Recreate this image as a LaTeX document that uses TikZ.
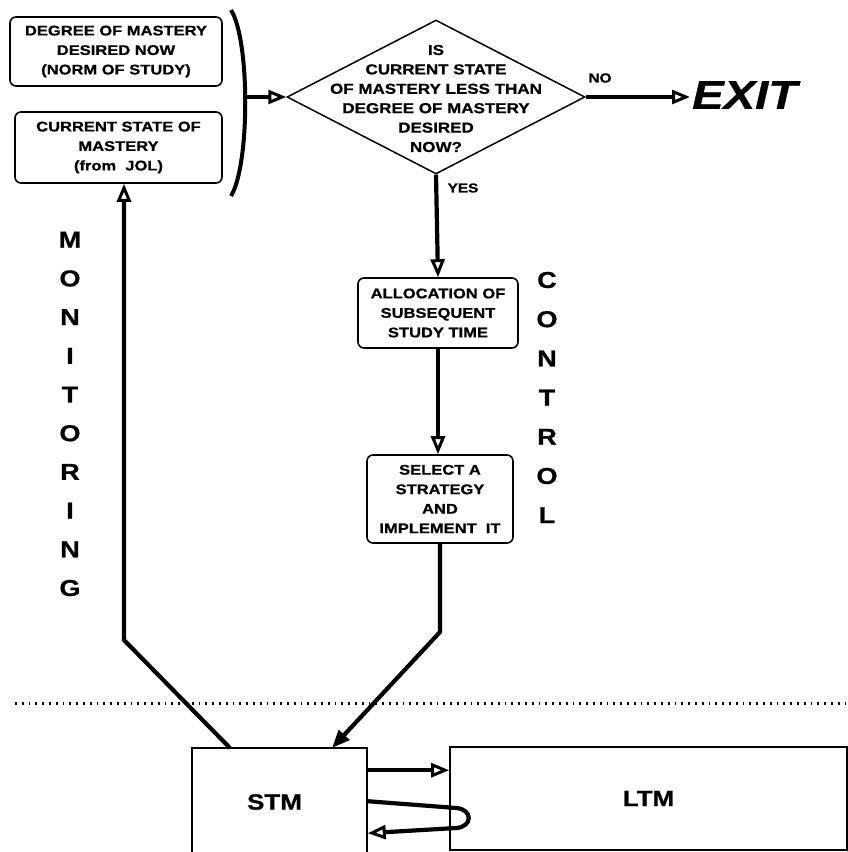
\documentclass[tikz,border=0pt]{standalone}
\usepackage{fontspec}
\newfontfamily\hv[FakeStretch=1.18,FakeBold=0.8]{Liberation Sans}
\usetikzlibrary{arrows.meta,shapes.geometric,calc}
\begin{document}
\begin{tikzpicture}[x=1pt,y=-1pt,
  box/.style={draw, line width=1.6pt, rounded corners=6pt, inner sep=0pt, align=center,
    font={\hv\bfseries\fontsize{14}{19.5}\selectfont}},
  mem/.style={draw, line width=1.6pt, inner sep=0pt, font={\hv\bfseries\fontsize{22}{26}\selectfont}},
  arr/.style={line width=4.2pt, line join=miter, -{Triangle[open, length=18pt, width=14pt, line width=3pt]}},
  arrf/.style={line width=4.2pt, line join=miter, -{Triangle[length=18pt, width=14pt]}},
  lbl/.style={font={\hv\bfseries\fontsize{13}{15}\selectfont}, inner sep=0pt},
  vert/.style={align=center, inner sep=0pt},
]
\useasboundingbox (0,0) rectangle (848,852);
\fill[white] (0,0) rectangle (848,852);
\clip (0,0) rectangle (848,852);

% boxes
\node[box, minimum width=212pt, minimum height=69pt] (norm) at (116,51.5)
  {DEGREE OF MASTERY\\DESIRED NOW\\(NORM OF STUDY)};
\node[box, minimum width=207pt, minimum height=71pt] (cur) at (118.5,147.5)
  {CURRENT STATE OF\\MASTERY\\(from\ \ JOL)};
\node[box, minimum width=160pt, minimum height=70pt] (alloc) at (438,313)
  {ALLOCATION OF\\SUBSEQUENT\\STUDY TIME};
\node[box, minimum width=146pt, minimum height=88pt] (sel) at (440,499)
  {SELECT A\\STRATEGY\\AND\\IMPLEMENT\ \ IT};

% decision diamond
\node[draw, diamond, line width=1.5pt, minimum width=298pt, minimum height=154pt, inner sep=0pt] (q) at (436,97) {};
\node[align=center, inner sep=0pt, font={\hv\bfseries\fontsize{14.4}{19.4}\selectfont}] (qt) at (436,98.5)
  {IS\\CURRENT STATE\\OF MASTERY LESS THAN\\DEGREE OF MASTERY\\DESIRED\\NOW?};

% exit
\node[inner sep=2pt, anchor=west, font={\hv\bfseries\itshape\fontsize{40}{44}\selectfont}] (exit) at (690,95) {EXIT};
\node[lbl] (no) at (600,78) {NO};
\node[lbl] (yes) at (463,188) {YES};

% bracket
\draw[line width=4pt] (231,10) .. controls (250,40) and (250,165) .. (231,196);
\coordinate (bk) at (245,97);

% memory stores
\node[mem, minimum width=175pt, minimum height=108pt] (stm) at (279.5,802) {\hspace*{-10pt}STM};
\node[mem, minimum width=397pt, minimum height=103pt] (ltm) at (648.5,798.5) {LTM};

% vertical words
\node[vert, font={\hv\bfseries\fontsize{23}{38.7}\selectfont}] (mon) at (70,414)
  {M\\O\\N\\I\\T\\O\\R\\I\\N\\G};
\node[vert, font={\hv\bfseries\fontsize{23}{39.2}\selectfont}] (ctl) at (547,397.5)
  {C\\O\\N\\T\\R\\O\\L};

% dotted separator
\coordinate (dl) at (15,703);
\coordinate (dr) at (848,703);
\draw[line width=3pt, dash pattern=on 1.8pt off 5pt] (dl) -- (dr);

% connectors
\draw[arr] (bk) -- (q.west);
\draw[arr] (q.east) -- (q.east -| exit.west);
\draw[arr] (q.south) -- (alloc.north);
\draw[arr] (alloc.south) -- (alloc.south |- sel.north);
\coordinate (b1) at (440,632);
\coordinate (stmin) at (332,748);
\draw[arrf] (sel.south) -- (sel.south |- b1) -- (stmin);
\coordinate (stmout) at (230,748);
\coordinate (b2) at (124,640);
\draw[arr] (stmout) -- (b2) -- (b2 |- cur.south);
\draw[arr] ($(stm.north east)+(0,23)$) -- ($(ltm.north west)+(0,24)$);
\draw[arr] ($(stm.north east)+(0,54)$) -- (456,808) .. controls (473,809) and (473,827) .. (456,828)
  -- ($(stm.north east)+(0,86)$);
\end{tikzpicture}
\end{document}
